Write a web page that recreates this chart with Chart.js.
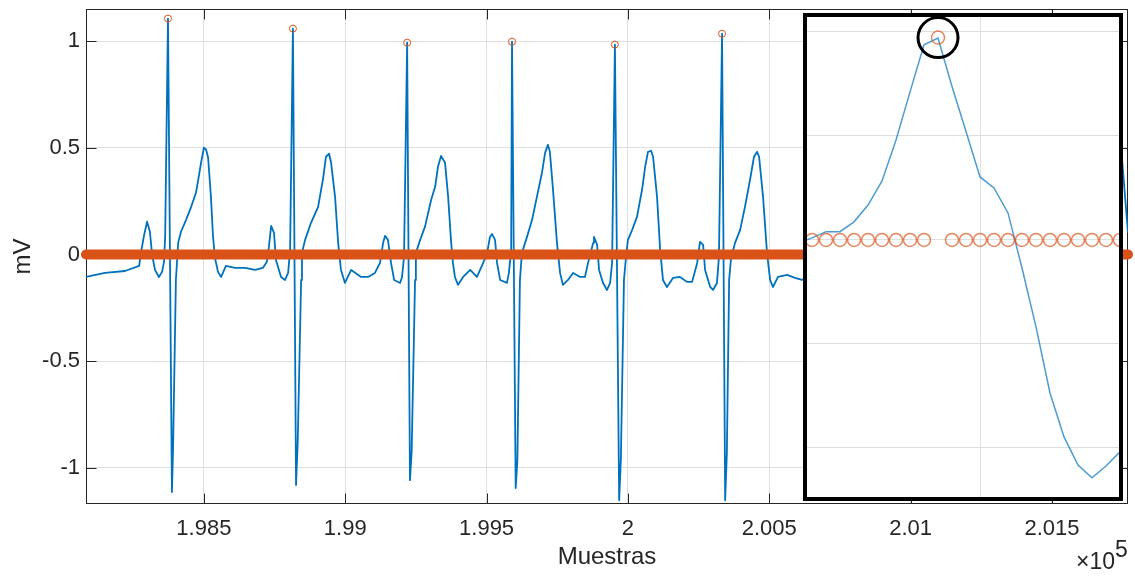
<!DOCTYPE html>
<html>
<head>
<meta charset="utf-8">
<script src="https://cdn.jsdelivr.net/npm/chart.js@4.4.1/dist/chart.umd.min.js"></script>
<style>
  html, body { margin: 0; padding: 0; background: #fff; }
  #wrap { position: relative; width: 1135px; height: 577px; overflow: hidden; }
  #main { position: absolute; left: 0; top: 0; }
  #insetBox { position: absolute; left: 803px; top: 13px; width: 312px; height: 480px;
              border: 4px solid #000; background: #fff; }
  #inset { display: block; }
  #exp { position: absolute; left: 1076px; top: 550px; font: 23px "Liberation Sans", Arial, sans-serif;
         color: #262626; line-height: 23px; white-space: nowrap; }
  #exp span { position: relative; top: -12px; }
</style>
</head>
<body>
<div id="wrap">
  <canvas id="main" width="1135" height="577"></canvas>
  <div id="insetBox"><canvas id="inset" width="312" height="480"></canvas></div>
  <div id="exp">×10<span>5</span></div>
</div>
<script>
// ECG trace (sample number, mV)
const ecgSamples = [
  198083,198150,198221,198271,198278,198288,198299,198309,198317,198327,
  198341,198352,198359,198363,198373,198387,198391,198401,198409,198419,
  198437,198455,198472,198483,198490,198500,198508,198515,198525,198532,
  198539,198550,198561,198578,198610,198646,198681,198709,198723,198730,
  198738,198748,198755,198773,198787,198798,198805,198815,198826,198832,
  198844,198847,198858,198879,198904,198921,198932,198943,198950,198964,
  198975,198985,198999,199021,199056,199081,199105,199123,199134,199141,
  199151,199162,199173,199194,199201,199208,199219,199229,199235,199247,
  199250,199265,199282,199304,199318,199328,199339,199353,199364,199374,
  199381,199388,199399,199417,199442,199466,199488,199502,199512,199519,
  199530,199537,199548,199572,199579,199587,199590,199603,199609,199618,
  199625,199643,199661,199678,199696,199707,199717,199724,199735,199749,
  199760,199770,199788,199806,199831,199848,199859,199877,199880,199891,
  199898,199912,199926,199937,199944,199954,199969,199975,199986,199993,
  200000,200015,200032,200050,200061,200071,200082,200089,200103,200114,
  200124,200138,200160,200184,200209,200227,200245,200255,200266,200273,
  200291,200301,200315,200322,200333,200344,200350,200358,200365,200379,
  200397,200414,200432,200446,200457,200464,200478,200492,200503,200513,
  200531,200563,200591,200616,201730,201748,201769,201783
];
const ecgMilliVolts = [
  -0.105,-0.086,-0.077,-0.053,0.013,0.088,0.154,0.107,-0.001,-0.072,
  -0.105,-0.081,-0.034,0.083,1.107,-1.114,-0.908,-0.119,0.055,0.107,
  0.163,0.224,0.290,0.374,0.431,0.501,0.492,0.454,0.271,0.092,
  -0.015,-0.081,-0.105,-0.053,-0.062,-0.062,-0.072,-0.062,-0.034,0.036,
  0.135,0.102,-0.025,-0.105,-0.119,-0.086,0.022,1.060,-1.081,-0.879,
  -0.119,0.008,0.069,0.149,0.224,0.351,0.459,0.473,0.431,0.271,
  0.055,-0.072,-0.133,-0.072,-0.105,-0.105,-0.086,-0.039,0.055,0.088,
  0.069,-0.039,-0.119,-0.133,-0.105,-0.011,0.994,-1.058,-0.926,-0.119,
  0.008,0.069,0.130,0.257,0.318,0.412,0.463,0.431,0.271,0.069,
  -0.039,-0.105,-0.142,-0.105,-0.072,-0.105,-0.039,0.008,0.083,0.097,
  0.069,-0.039,-0.119,-0.133,-0.086,0.022,0.999,-1.095,-0.964,-0.119,
  0.008,0.083,0.163,0.271,0.384,0.477,0.515,0.482,0.304,0.055,
  -0.086,-0.142,-0.119,-0.086,-0.105,-0.105,-0.039,0.055,0.083,0.046,
  -0.072,-0.133,-0.166,-0.133,-0.039,0.985,-1.152,-0.964,-0.119,-0.015,
  0.069,0.116,0.177,0.304,0.412,0.482,0.487,0.459,0.271,0.022,
  -0.119,-0.152,-0.109,-0.105,-0.128,-0.128,-0.039,0.060,0.046,-0.072,
  -0.152,-0.166,-0.133,-0.011,1.036,-1.152,-0.931,-0.119,-0.015,0.055,
  0.116,0.224,0.351,0.459,0.482,0.459,0.271,0.008,-0.119,-0.152,
  -0.105,-0.095,-0.109,-0.119,0.492,0.445,0.102,-0.034
];

// detected R peaks
const peakSamples = [198373, 198815, 199219, 199590, 199954, 200333];
const peakMilliVolts = [1.107, 1.060, 0.994, 0.999, 0.985, 1.036];

// zero markers (drawn as one thick row)
const zeroSamples = [198083, 201769];
const zeroMilliVolts = [0, 0];

// axis limits and ticks
const xLimits = [198083, 201769];
const yLimits = [-1.17, 1.152];
const xTickValues = [198500, 199000, 199500, 200000, 200500, 201000, 201500];
const xTickLabels = ['1.985', '1.99', '1.995', '2', '2.005', '2.01', '2.015'];
const yTickValues = [-1, -0.5, 0, 0.5, 1];
const yTickLabels = ['-1', '-0.5', '0', '0.5', '1'];

// zoomed inset around one R peak
const insetSamples = [
  200327,200328,200329,200330,200331,200332,200333,200334,200335,200336,200337,200338,
  200339,200340,200341,200342,200343,200344,200345,200346,200347,200348,200349,200350
];
const insetMilliVolts = [
  -0.015,0.010,0.040,0.040,0.087,0.168,0.284,0.481,0.712,0.938,0.971,0.738,
  0.521,0.303,0.250,0.130,-0.135,-0.418,-0.736,-0.947,-1.082,-1.144,-1.087,-1.019
];
const insetZeroSamples = [
  200328,200329,200330,200331,200332,200333,200334,200335,200336,
  200338,200339,200340,200341,200342,200343,200344,200345,200346,200347,200348,200349,200350
];
const insetPeakSample = [200337];
const insetPeakMilliVolts = [0.973];
const insetXLimits = [200327.64, 200349.93];
const insetYLimits = [-1.236, 1.072];
const insetXTicks = [200340];
const insetYTicks = [-1, -0.5, 0, 0.5, 1];

const FONT = '"Liberation Sans", Arial, Helvetica, sans-serif';
const GRID = '#dfdfdf';
const INK = '#262626';
const BLUE = '#0072BD';
const ORANGE = '#D95319';

function pts(xs, ys) {
  return xs.map((x, i) => ({ x: x, y: ys[i] }));
}

// no extra label padding around the plot box
function noPad(s) {
  s.paddingTop = 0; s.paddingBottom = 0;
  s.paddingLeft = 0; s.paddingRight = 0;
}

// MATLAB-like box with inward ticks
const boxTicks = {
  id: 'boxTicks',
  beforeDatasetsDraw(chart) {
    const { ctx, chartArea: a, scales: { x, y } } = chart;
    const L = Math.round(a.left) + 0.5, R = Math.round(a.right) - 0.5;
    const T = Math.round(a.top) + 0.5, B = Math.round(a.bottom) - 0.5;
    ctx.save();
    ctx.strokeStyle = INK;
    ctx.lineWidth = 1;
    ctx.strokeRect(L, T, R - L, B - T);
    ctx.beginPath();
    x.ticks.forEach(t => {
      const px = Math.round(x.getPixelForValue(t.value)) + 0.5;
      ctx.moveTo(px, B); ctx.lineTo(px, B - 10);
      ctx.moveTo(px, T); ctx.lineTo(px, T + 10);
    });
    y.ticks.forEach(t => {
      const py = Math.round(y.getPixelForValue(t.value)) + 0.5;
      ctx.moveTo(L, py); ctx.lineTo(L + 10, py);
      ctx.moveTo(R, py); ctx.lineTo(R - 10, py);
    });
    ctx.stroke();
    ctx.restore();
  }
};

new Chart(document.getElementById('main'), {
  type: 'line',
  data: {
    datasets: [
      {
        data: pts(peakSamples, peakMilliVolts),
        showLine: false,
        pointStyle: 'circle',
        pointRadius: 3.5,
        pointBorderWidth: 1,
        pointBorderColor: ORANGE,
        pointBackgroundColor: 'rgba(0,0,0,0)',
        clip: false,
        order: 0
      },
      {
        data: pts(zeroSamples, zeroMilliVolts),
        borderColor: ORANGE,
        borderWidth: 10,
        borderCapStyle: 'round',
        pointRadius: 0,
        clip: false,
        order: 1
      },
      {
        data: pts(ecgSamples, ecgMilliVolts),
        borderColor: BLUE,
        borderWidth: 1.8,
        borderJoinStyle: 'round',
        pointRadius: 0,
        tension: 0,
        order: 2
      }
    ]
  },
  options: {
    responsive: false,
    animation: false,
    events: [],
    layout: { autoPadding: false, padding: { top: 9, right: 7, left: 0, bottom: 0 } },
    plugins: { legend: { display: false }, tooltip: { enabled: false } },
    scales: {
      x: {
        type: 'linear',
        min: xLimits[0],
        max: xLimits[1],
        afterBuildTicks: s => { s.ticks = xTickValues.map(v => ({ value: v })); },
        afterFit: s => { s.height = 73; noPad(s); },
        grid: { color: GRID, lineWidth: 1, drawTicks: false },
        border: { display: false },
        ticks: {
          padding: 12, color: INK, font: { family: FONT, size: 22 },
          maxRotation: 0, autoSkip: false,
          callback: v => xTickLabels[xTickValues.indexOf(v)]
        },
        title: {
          display: true, text: 'Muestras', color: INK,
          font: { family: FONT, size: 24 }, padding: { top: 0, bottom: 5 }
        }
      },
      y: {
        type: 'linear',
        min: yLimits[0],
        max: yLimits[1],
        afterBuildTicks: s => { s.ticks = yTickValues.map(v => ({ value: v })); },
        afterFit: s => { s.width = 86; noPad(s); },
        grid: { color: GRID, lineWidth: 1, drawTicks: false },
        border: { display: false },
        ticks: {
          padding: 6, color: INK, font: { family: FONT, size: 22 },
          autoSkip: false,
          callback: v => yTickLabels[yTickValues.indexOf(v)]
        },
        title: {
          display: true, text: 'mV', color: INK,
          font: { family: FONT, size: 24 }, padding: { top: 9, bottom: 0 }
        }
      }
    }
  },
  plugins: [boxTicks]
});

// inset
new Chart(document.getElementById('inset'), {
  type: 'line',
  data: {
    datasets: [
      {
        data: pts(insetPeakSample, insetPeakMilliVolts),
        showLine: false,
        pointRadius: 20,
        pointBorderWidth: 3,
        pointBorderColor: '#000',
        pointBackgroundColor: 'rgba(0,0,0,0)',
        order: 0
      },
      {
        data: pts(insetPeakSample, insetPeakMilliVolts),
        showLine: false,
        pointRadius: 6.5,
        pointBorderWidth: 1.5,
        pointBorderColor: 'rgba(217,83,25,0.7)',
        pointBackgroundColor: 'rgba(0,0,0,0)',
        order: 1
      },
      {
        data: insetZeroSamples.map(s => ({ x: s, y: 0 })),
        showLine: false,
        pointRadius: 6.5,
        pointBorderWidth: 1.5,
        pointBorderColor: 'rgba(217,83,25,0.7)',
        pointBackgroundColor: 'rgba(0,0,0,0)',
        order: 2
      },
      {
        data: pts(insetSamples, insetMilliVolts),
        borderColor: 'rgba(0,114,189,0.7)',
        borderWidth: 1.5,
        pointRadius: 0,
        tension: 0,
        order: 3
      }
    ]
  },
  options: {
    responsive: false,
    animation: false,
    events: [],
    layout: { autoPadding: false, padding: 0 },
    plugins: { legend: { display: false }, tooltip: { enabled: false } },
    scales: {
      x: {
        type: 'linear',
        min: insetXLimits[0],
        max: insetXLimits[1],
        afterBuildTicks: s => { s.ticks = insetXTicks.map(v => ({ value: v })); },
        afterFit: s => { s.height = 0; noPad(s); },
        grid: { color: GRID, lineWidth: 1, drawTicks: false },
        border: { display: false },
        ticks: { display: false }
      },
      y: {
        type: 'linear',
        min: insetYLimits[0],
        max: insetYLimits[1],
        afterBuildTicks: s => { s.ticks = insetYTicks.map(v => ({ value: v })); },
        afterFit: s => { s.width = 0; noPad(s); },
        grid: { color: GRID, lineWidth: 1, drawTicks: false },
        border: { display: false },
        ticks: { display: false }
      }
    }
  }
});
</script>
</body>
</html>
